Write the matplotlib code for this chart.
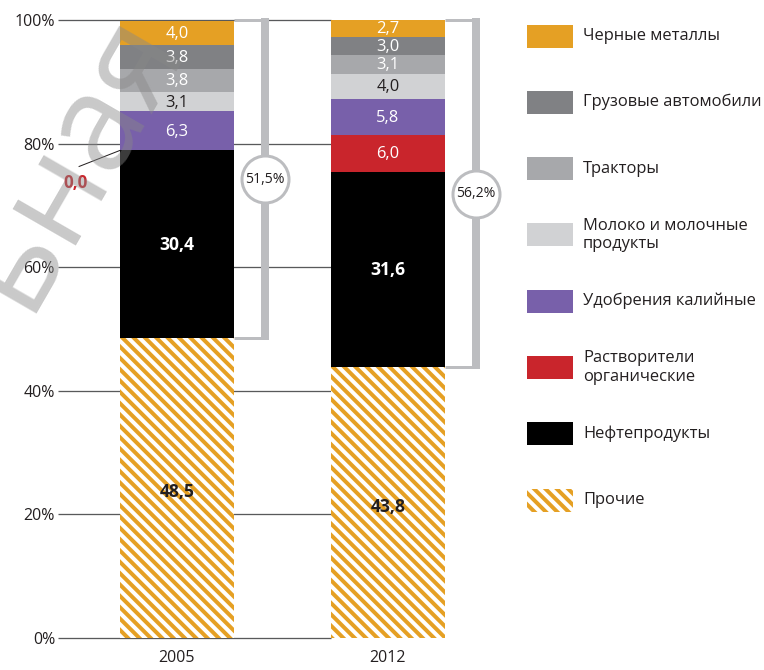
import numpy as np
import matplotlib.pyplot as plt
from matplotlib.patches import Rectangle

DPI = 68
W, H = 764, 670


def px(n):
    # pixel size -> points at this dpi
    return n * 72.0 / DPI


plt.rcParams['font.family'] = ['Open Sans', 'DejaVu Sans']
plt.rcParams['hatch.linewidth'] = px(4.0)

years = ['2005', '2012']

# segments from bottom to top
categories = ['Прочие', 'Нефтепродукты', 'Растворители\nорганические',
              'Удобрения калийные', 'Молоко и молочные\nпродукты',
              'Тракторы', 'Грузовые автомобили', 'Черные металлы']
values_2005 = [48.5, 30.4, 0.0, 6.3, 3.1, 3.8, 3.8, 4.0]
values_2012 = [43.8, 31.6, 6.0, 5.8, 4.0, 3.1, 3.0, 2.7]

colors = ['#E5A024', '#000000', '#C9252C', '#7860AA', '#D1D2D4',
          '#A7A8AB', '#808184', '#E5A024']
text_colors = ['#231F20', 'white', 'white', 'white', '#231F20',
               'white', 'white', 'white']
bold = [True, True, False, False, False, False, False, False]

ORANGE = '#E5A024'
BRACKET = '#BCBDC0'
HATCH = '\\\\'

fig = plt.figure(figsize=(W / DPI, H / DPI), dpi=DPI)
ax = fig.add_axes([58 / W, (H - 638) / H, (520 - 58) / W, (638 - 20) / H])

x = np.array([0.0, 1.0])
bw = 0.54
ax.set_xlim(-0.564, 1.626)
ax.set_ylim(0, 100)

data = np.array([values_2005, values_2012])
bottoms = np.zeros(2)

# grid lines run from the left edge to the second bar
for yv in range(0, 101, 20):
    ax.plot([-0.564, x[1] - bw / 2], [yv, yv], color='#58595B', lw=px(1.3),
            zorder=0, clip_on=False, solid_capstyle='butt')

for i, cat in enumerate(categories):
    vals = data[:, i]
    if i == 0:
        ax.bar(x, vals, bw, bottom=bottoms, facecolor='white', edgecolor=ORANGE,
               hatch=HATCH, linewidth=0, zorder=2, clip_on=False)
    else:
        ax.bar(x, vals, bw, bottom=bottoms, color=colors[i], linewidth=0,
               zorder=2, clip_on=False)
    for j in range(2):
        if vals[j] > 0:
            yt = bottoms[j] + vals[j] / 2 - (0.7 if i == 0 else 0.1)
            ax.text(x[j], yt, f'{vals[j]:.1f}'.replace('.', ','),
                    ha='center', va='center', color=text_colors[i],
                    fontsize=px(17.5 if bold[i] else 16.5),
                    fontweight='bold' if bold[i] else 'normal', zorder=4)
    bottoms = bottoms + vals

# zero-valued solvent segment in 2005 gets a leader label
zero_y = values_2005[0] + values_2005[1]
ax.plot([x[0] - bw / 2, x[0] - bw / 2 - 0.194], [zero_y, zero_y - 2.6],
        color='#231F20', lw=px(1), zorder=3, clip_on=False)
ax.text(x[0] - bw / 2 - 0.21, zero_y - 5.3, '0,0', color='#C9252C',
        fontsize=px(17), fontweight='bold', ha='center', va='center')

# brackets with the share of the named goods
for j in range(2):
    low = data[j, 0]
    xr = x[j] + bw / 2
    xb = xr + 0.147
    ax.plot([xb, xb], [100.3, low - 0.3], color=BRACKET, lw=px(8),
            solid_capstyle='butt', zorder=1, clip_on=False)
    ax.plot([xr, xb], [100, 100], color=BRACKET, lw=px(3),
            solid_capstyle='butt', zorder=1, clip_on=False)
    ax.plot([xr, xb], [low, low], color=BRACKET, lw=px(3),
            solid_capstyle='butt', zorder=1, clip_on=False)
    yc = (100 + low) / 2
    ax.plot([xb], [yc], marker='o', ms=px(47), mfc='white', mec=BRACKET,
            mew=px(3), zorder=5, clip_on=False)
    ax.text(xb, yc, f'{100 - low:.1f}%'.replace('.', ','), ha='center',
            va='center', fontsize=px(14), color='#231F20', zorder=6)

ax.set_yticks(range(0, 101, 20))
ax.set_yticklabels([f'{v}%' for v in range(0, 101, 20)])
ax.set_xticks(x)
ax.set_xticklabels(years)
ax.tick_params(length=0, labelsize=px(16), colors='#231F20')
ax.tick_params(axis='y', pad=px(3))
ax.tick_params(axis='x', pad=px(12))
for s in ax.spines.values():
    s.set_visible(False)

# legend on the right, top entry first
leg_x, leg_w, leg_h = 527, 46, 23
for k, cat in enumerate(categories[::-1]):
    idx = len(categories) - 1 - k
    yc = 36 + 66.3 * k
    if idx == 0:
        r = Rectangle((leg_x / W, (H - yc - leg_h / 2) / H), leg_w / W, leg_h / H,
                      transform=fig.transFigure, facecolor='white',
                      edgecolor=ORANGE, hatch=HATCH, linewidth=0)
    else:
        r = Rectangle((leg_x / W, (H - yc - leg_h / 2) / H), leg_w / W, leg_h / H,
                      transform=fig.transFigure, facecolor=colors[idx],
                      linewidth=0)
    fig.add_artist(r)
    fig.text(583 / W, (H - yc) / H, cat, ha='left', va='center',
             fontsize=px(16.5), color='#231F20', linespacing=1.2)

# faint diagonal watermark
fig.text(74 / W, (H - 160) / H, 'ьная', rotation=60, ha='center', va='center',
         fontsize=px(135), color='#888888', alpha=0.45, zorder=10)

fig.savefig('out.png', dpi=DPI)
